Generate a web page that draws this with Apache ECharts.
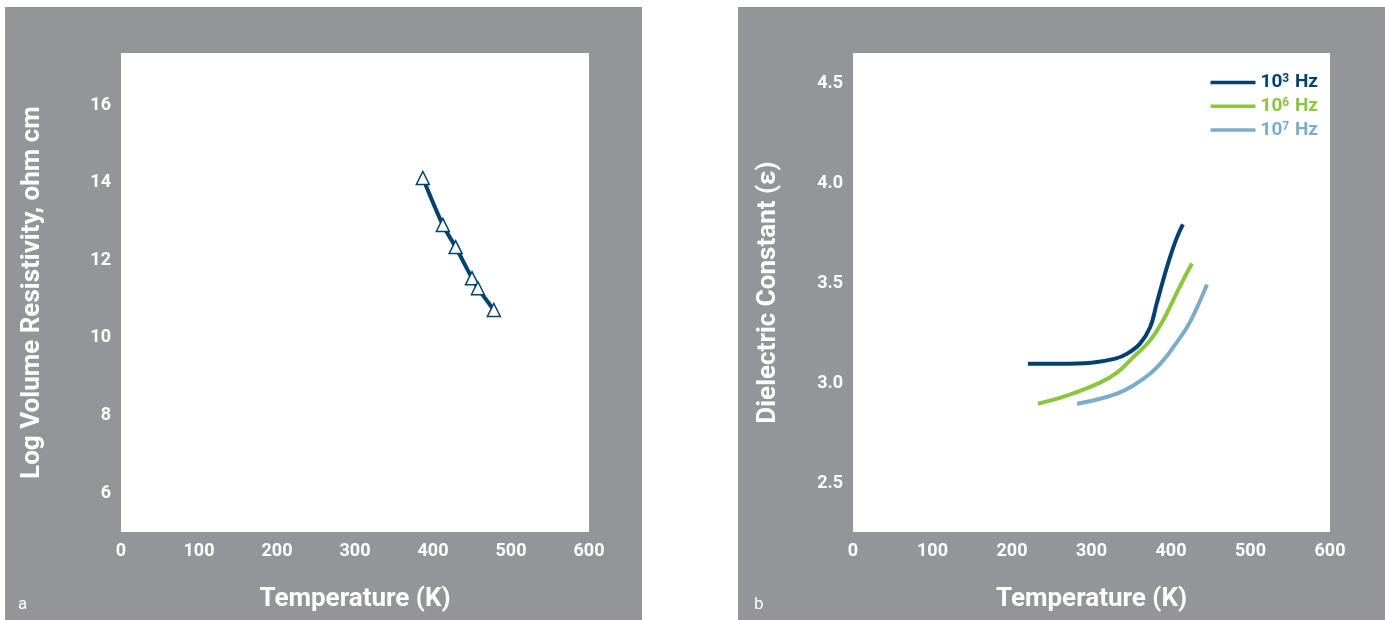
<!DOCTYPE html>
<html><head><meta charset="utf-8">
<script src="https://cdn.jsdelivr.net/npm/echarts@6/dist/echarts.min.js"></script>
<style>html,body{margin:0;padding:0;background:#fff}#c{width:1385px;height:620px}</style>
</head><body><div id="c"></div>
<script>
// Panel a: log volume resistivity vs temperature
const resTemp = [387, 412.6, 429, 450, 457.6, 478];
const resLog  = [14.12, 12.91, 12.34, 11.54, 11.28, 10.72];
const resYTicks = [6, 8, 10, 12, 14, 16];
// Panel b: dielectric constant vs temperature
const tempTicks = [0, 100, 200, 300, 400, 500, 600];
const f3Temp = [220, 260, 300, 330, 345, 361, 373.6, 382, 390, 398.7, 407.5, 415];
const f3Eps  = [3.10, 3.10, 3.105, 3.125, 3.15, 3.20, 3.28, 3.40, 3.515, 3.63, 3.73, 3.795];
const f6Temp = [232.7, 269, 310.7, 332, 352, 373.6, 390, 402.5, 415, 426.4];
const f6Eps  = [2.90, 2.94, 3.005, 3.055, 3.13, 3.215, 3.315, 3.415, 3.515, 3.60];
const f7Temp = [281.8, 310.7, 332, 352, 373.6, 390, 402.5, 420, 432.7, 445.3];
const f7Eps  = [2.90, 2.925, 2.95, 2.99, 3.05, 3.115, 3.18, 3.28, 3.38, 3.495];
const epsYTicks = [2.5, 3.0, 3.5, 4.0, 4.5];
const seriesNames = ['10^3 Hz', '10^6 Hz', '10^7 Hz'];
const seriesSup = ['3', '6', '7'];

const DARK = '#00426f', GREEN = '#8cc63f', LIGHT = '#7badcb', GRAY = '#939598';
const FONT = 'Roboto';
const zip = (a, b) => a.map((v, i) => [v, b[i]]);

const chart = echarts.init(document.getElementById('c'), null, {renderer: 'canvas'});
const tickLabel = {color: '#fff', fontFamily: FONT, fontWeight: 'bold', fontSize: 18};
const axisName = {color: '#fff', fontFamily: FONT, fontWeight: 'bold', fontSize: 26};

function xAxis(gi) {
  return {
    type: 'value', gridIndex: gi, min: 0, max: 600, interval: 100,
    name: 'Temperature (K)', nameLocation: 'middle', nameGap: 54, nameTextStyle: axisName,
    axisLine: {show: false}, axisTick: {show: false}, splitLine: {show: false},
    axisLabel: Object.assign({margin: 10, customValues: tempTicks}, tickLabel)
  };
}
function legendItem(i, color) {
  return {
    name: seriesNames[i],
    textStyle: {rich: {
      b: {color: color, fontFamily: FONT, fontWeight: 'bold', fontSize: 19},
      s: {color: color, fontFamily: FONT, fontWeight: 'bold', fontSize: 12, verticalAlign: 'top', padding: [0, 1, 7, 0]}
    }}
  };
}

chart.setOption({
  animation: false,
  graphic: [
    {type: 'rect', shape: {x: 5, y: 7, width: 637, height: 613}, style: {fill: GRAY}, z: -10},
    {type: 'rect', shape: {x: 738, y: 7, width: 647, height: 613}, style: {fill: GRAY}, z: -10},
    {type: 'text', left: 18, top: 596, style: {text: 'a', fill: '#fff', font: '17px Roboto'}},
    {type: 'text', left: 754, top: 596, style: {text: 'b', fill: '#fff', font: '17px Roboto'}}
  ],
  grid: [
    {left: 121, top: 53, width: 468, height: 479, show: true, backgroundColor: '#fff', borderWidth: 0},
    {left: 853, top: 53, width: 477, height: 479, show: true, backgroundColor: '#fff', borderWidth: 0}
  ],
  xAxis: [xAxis(0), xAxis(1)],
  yAxis: [
    {type: 'value', gridIndex: 0, min: 5, max: 17.34,
     name: 'Log Volume Resistivity, ohm cm', nameLocation: 'middle', nameGap: 76, nameTextStyle: axisName,
     axisLine: {show: false}, axisTick: {show: false}, splitLine: {show: false},
     axisLabel: Object.assign({margin: 10, padding: [9, 0, 0, 0], customValues: resYTicks}, tickLabel)},
    {type: 'value', gridIndex: 1, min: 2.26, max: 4.65,
     name: 'Dielectric Constant (\u03b5)', nameLocation: 'middle', nameGap: 72, nameTextStyle: axisName,
     axisLine: {show: false}, axisTick: {show: false}, splitLine: {show: false},
     axisLabel: Object.assign({margin: 10, padding: [9, 0, 0, 0], customValues: epsYTicks, formatter: v => v.toFixed(1)}, tickLabel)}
  ],
  legend: {
    orient: 'vertical', right: 62, top: 68, itemGap: 4.8, itemWidth: 45, itemHeight: 14,
    icon: 'path://M0,5.5 L45,5.5 L45,9 L0,9 Z',
    formatter: name => { const i = seriesNames.indexOf(name); return '{b|10}{s|' + seriesSup[i] + '}{b| Hz}'; },
    data: [legendItem(0, DARK), legendItem(1, GREEN), legendItem(2, LIGHT)]
  },
  series: [
    {type: 'line', xAxisIndex: 0, yAxisIndex: 0, data: zip(resTemp, resLog), smooth: 0.3,
     symbol: 'triangle', symbolSize: 13,
     lineStyle: {color: DARK, width: 4},
     itemStyle: {color: '#fff', borderColor: DARK, borderWidth: 1.5}},
    {name: seriesNames[0], type: 'line', xAxisIndex: 1, yAxisIndex: 1, data: zip(f3Temp, f3Eps), smooth: 0.4,
     showSymbol: false, lineStyle: {color: DARK, width: 4}, itemStyle: {color: DARK}},
    {name: seriesNames[1], type: 'line', xAxisIndex: 1, yAxisIndex: 1, data: zip(f6Temp, f6Eps), smooth: 0.4,
     showSymbol: false, lineStyle: {color: GREEN, width: 4}, itemStyle: {color: GREEN}},
    {name: seriesNames[2], type: 'line', xAxisIndex: 1, yAxisIndex: 1, data: zip(f7Temp, f7Eps), smooth: 0.4,
     showSymbol: false, lineStyle: {color: LIGHT, width: 4}, itemStyle: {color: LIGHT}}
  ]
});
</script></body></html>
